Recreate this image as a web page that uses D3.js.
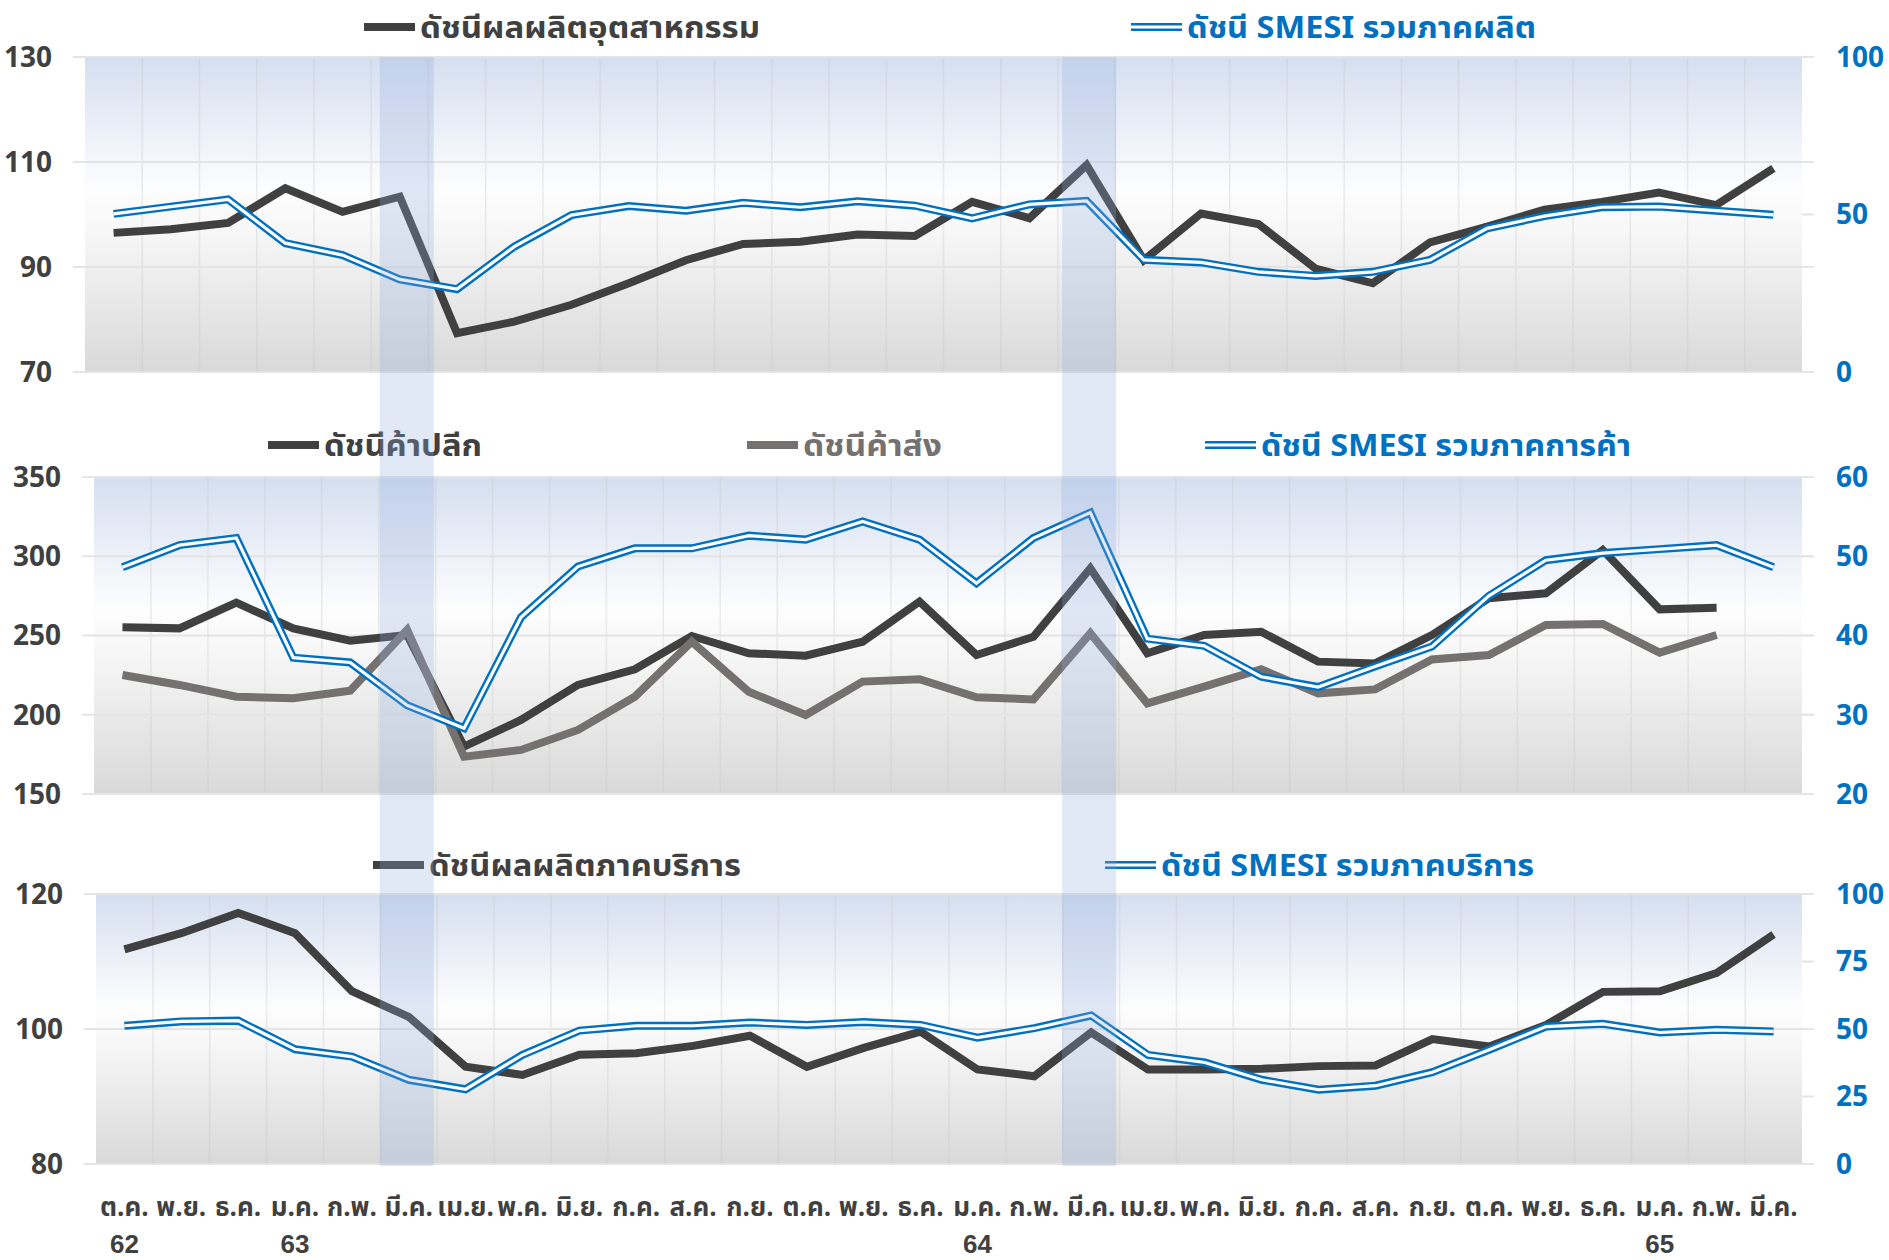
<!DOCTYPE html>
<html>
<head>
<meta charset="utf-8">
<script src="https://cdn.jsdelivr.net/npm/d3@7/dist/d3.min.js"></script>
<style>
  body { margin: 0; background: #ffffff; }
  text { font-family: "Noto Sans Thai", "Noto Sans Thai UI", "Noto Sans", "DejaVu Sans", sans-serif; font-weight: bold; }
  text.year { font-family: "Liberation Sans", Arial, sans-serif; }
</style>
</head>
<body>
<svg id="canvas"></svg>
<script>
// Month labels (Oct 2019 - Mar 2022, Thai years 62-65).
var months = ['ต.ค.', 'พ.ย.', 'ธ.ค.', 'ม.ค.', 'ก.พ.', 'มี.ค.', 'เม.ย.', 'พ.ค.', 'มิ.ย.', 'ก.ค.', 'ส.ค.', 'ก.ย.',
              'ต.ค.', 'พ.ย.', 'ธ.ค.', 'ม.ค.', 'ก.พ.', 'มี.ค.', 'เม.ย.', 'พ.ค.', 'มิ.ย.', 'ก.ค.', 'ส.ค.', 'ก.ย.',
              'ต.ค.', 'พ.ย.', 'ธ.ค.', 'ม.ค.', 'ก.พ.', 'มี.ค.'];
var years = ['62', '63', '64', '65'];
var yearMonths = [0, 3, 15, 27];
var highlightMonths = [5, 17];

// Panel 1: manufacturing.
var ipi = [96.5, 97.2, 98.4, 105.0, 100.5, 103.4, 77.4, 79.6, 82.8, 86.9, 91.3, 94.4, 94.8, 96.2, 95.9,
           102.4, 99.3, 109.4, 91.3, 100.2, 98.2, 89.7, 86.9, 94.7, 97.7, 100.9, 102.4, 104.2, 101.8, 108.8];
var smesiMfg = [50.2, 52.5, 54.8, 40.9, 37.1, 29.4, 26.3, 39.8, 49.8, 52.7, 51.2, 53.7, 52.3, 54.2, 52.8,
                48.8, 53.2, 54.3, 35.6, 34.8, 31.8, 30.5, 31.8, 35.6, 45.6, 49.5, 52.3, 52.5, 51.2, 49.9];

// Panel 2: trade.
var retail = [255.2, 254.5, 270.7, 254.5, 246.7, 250.3, 179.9, 196.7, 218.8, 228.7, 249.7, 238.8, 237.3, 246.1, 271.4,
              237.7, 249.2, 292.4, 238.8, 250.3, 252.4, 233.5, 232.4, 250.3, 273.5, 276.6, 303.9, 266.5, 267.5, null];
var wholesale = [225.1, 218.8, 211.4, 210.4, 215.2, 253.5, 173.5, 177.8, 190.4, 211.4, 246.1, 214.5, 199.8, 220.9, 222.4,
                 211.0, 209.7, 251.4, 207.2, 217.7, 228.7, 213.5, 216.0, 234.9, 237.7, 256.6, 257.3, 239.2, 250.3, null];
var smesiTrade = [48.6, 51.4, 52.3, 37.2, 36.6, 31.2, 28.3, 42.3, 48.7, 51.0, 51.0, 52.6, 52.1, 54.4, 52.1,
                  46.6, 52.3, 55.5, 39.6, 38.7, 34.8, 33.5, 36.1, 38.6, 45.0, 49.5, 50.4, 50.9, 51.4, 48.6];

// Panel 3: services.
var services = [111.8, 114.2, 117.2, 114.2, 105.6, 101.8, 94.4, 93.2, 96.2, 96.4, 97.5, 99.0, 94.4, 97.2, 99.6,
                94.0, 93.0, 99.5, 94.0, 94.0, 94.1, 94.5, 94.6, 98.5, 97.4, 100.6, 105.5, 105.6, 108.3, 114.0];
var smesiServ = [51.2, 52.8, 53.1, 42.5, 39.8, 31.2, 27.7, 40.4, 49.4, 51.2, 51.2, 52.4, 51.5, 52.6, 51.5,
                 46.8, 50.3, 55.0, 40.4, 37.6, 31.2, 27.5, 29.0, 34.0, 42.3, 50.9, 51.9, 48.7, 49.7, 49.1];

// Colours.
var colour = {
  dark: '#404040',
  gray: '#767171',
  blue: '#0070c0',
  grid: '#e4e4e4'
};

var canvas = { width: 1889, height: 1260 };

var svg = d3.select('#canvas')
            .attr('width', canvas.width)
            .attr('height', canvas.height);

// Plot background gradient.
var defs = svg.append('defs');
var grad = defs.append('linearGradient')
               .attr('id', 'bg')
               .attr('x1', 0).attr('y1', 0).attr('x2', 0).attr('y2', 1);
[[0, '#d5dff0'], [0.42, '#fdfdfe'], [0.55, '#f7f7f7'], [1, '#d9d9d9']].forEach(function(s) {
  grad.append('stop').attr('offset', s[0]).attr('stop-color', s[1]);
});

// Panel layouts.
var panels = [
  {
    left: 85, right: 1802, top: 57, bottom: 372,
    leftDomain: [70, 130], leftTicks: [70, 90, 110, 130],
    rightDomain: [0, 100], rightTicks: [0, 50, 100],
    series: [
      { values: ipi, axis: 'left', style: 'dark' },
      { values: smesiMfg, axis: 'right', style: 'double' }
    ],
    legend: [
      { label: 'ดัชนีผลผลิตอุตสาหกรรม', style: 'dark', x: 364, width: 340 },
      { label: 'ดัชนี SMESI รวมภาคผลิต', style: 'double', x: 1131, width: 349 }
    ],
    legendY: 27
  },
  {
    left: 94, right: 1802, top: 477, bottom: 794,
    leftDomain: [150, 350], leftTicks: [150, 200, 250, 300, 350],
    rightDomain: [20, 60], rightTicks: [20, 30, 40, 50, 60],
    series: [
      { values: retail, axis: 'left', style: 'dark' },
      { values: wholesale, axis: 'left', style: 'gray' },
      { values: smesiTrade, axis: 'right', style: 'double' }
    ],
    legend: [
      { label: 'ดัชนีค้าปลีก', style: 'dark', x: 268, width: 158 },
      { label: 'ดัชนีค้าส่ง', style: 'gray', x: 747, width: 139 },
      { label: 'ดัชนี SMESI รวมภาคการค้า', style: 'double', x: 1205, width: 370 }
    ],
    legendY: 445
  },
  {
    left: 96, right: 1802, top: 894, bottom: 1164,
    leftDomain: [80, 120], leftTicks: [80, 100, 120],
    rightDomain: [0, 100], rightTicks: [0, 25, 50, 75, 100],
    series: [
      { values: services, axis: 'left', style: 'dark' },
      { values: smesiServ, axis: 'right', style: 'double' }
    ],
    legend: [
      { label: 'ดัชนีผลผลิตภาคบริการ', style: 'dark', x: 373, width: 312 },
      { label: 'ดัชนี SMESI รวมภาคบริการ', style: 'double', x: 1105, width: 373 }
    ],
    legendY: 865
  }
];

// Draw a line in one of the three styles.
function drawLine(g, points, style) {
  if (style == 'double') {
    g.append('path').attr('d', points).attr('fill', 'none')
     .attr('stroke', colour.blue).attr('stroke-width', 8).attr('stroke-linejoin', 'miter');
    g.append('path').attr('d', points).attr('fill', 'none')
     .attr('stroke', '#ffffff').attr('stroke-width', 3.2).attr('stroke-linejoin', 'miter');
  } else {
    g.append('path').attr('d', points).attr('fill', 'none')
     .attr('stroke', colour[style]).attr('stroke-width', 8)
     .attr('stroke-linejoin', 'miter').attr('stroke-miterlimit', 3);
  }
}

var lastX;

panels.forEach(function(p) {
  var g = svg.append('g');

  var x = d3.scaleBand().domain(d3.range(months.length)).range([p.left, p.right]);
  var yL = d3.scaleLinear().domain(p.leftDomain).range([p.bottom, p.top]);
  var yR = d3.scaleLinear().domain(p.rightDomain).range([p.bottom, p.top]);
  lastX = x;

  // Background.
  g.append('rect')
   .attr('x', p.left).attr('y', p.top)
   .attr('width', p.right - p.left).attr('height', p.bottom - p.top)
   .attr('fill', 'url(#bg)');

  // Vertical grid at band boundaries.
  g.selectAll('.vgrid')
   .data(d3.range(1, months.length))
   .enter().append('line')
   .attr('x1', function(d) { return x(d); }).attr('x2', function(d) { return x(d); })
   .attr('y1', p.top).attr('y2', p.bottom)
   .attr('stroke', '#c8c8c8').attr('stroke-opacity', 0.35).attr('stroke-width', 1.5);

  // Horizontal grid + tick marks.
  g.selectAll('.hgrid')
   .data(p.leftTicks)
   .enter().append('line')
   .attr('x1', p.left - 12).attr('x2', p.right + 12)
   .attr('y1', function(d) { return yL(d); }).attr('y2', function(d) { return yL(d); })
   .attr('stroke', colour.grid).attr('stroke-width', 2);

  // Left axis labels.
  g.selectAll('.lt')
   .data(p.leftTicks)
   .enter().append('text')
   .attr('x', p.left - 33)
   .attr('y', function(d) { return yL(d); })
   .attr('dy', '0.35em')
   .attr('text-anchor', 'end')
   .attr('font-size', 28)
   .attr('fill', colour.dark)
   .text(function(d) { return d; });

  // Right axis ticks and labels.
  g.selectAll('.rtick')
   .data(p.rightTicks)
   .enter().append('line')
   .attr('x1', p.right).attr('x2', p.right + 12)
   .attr('y1', function(d) { return yR(d); }).attr('y2', function(d) { return yR(d); })
   .attr('stroke', colour.grid).attr('stroke-width', 2);

  g.selectAll('.rt')
   .data(p.rightTicks)
   .enter().append('text')
   .attr('x', p.right + 34)
   .attr('y', function(d) { return yR(d); })
   .attr('dy', '0.35em')
   .attr('font-size', 28)
   .attr('fill', colour.blue)
   .text(function(d) { return d; });

  // Series.
  p.series.forEach(function(s) {
    var yS = s.axis == 'left' ? yL : yR;
    var line = d3.line()
                 .defined(function(d) { return d != null; })
                 .x(function(d, i) { return x(i) + x.bandwidth() / 2; })
                 .y(function(d) { return yS(d); });
    drawLine(g, line(s.values), s.style);
  });

  // Legend.
  p.legend.forEach(function(l) {
    var c = l.style == 'double' ? colour.blue : colour[l.style];
    var marker = d3.line()([[l.x, p.legendY], [l.x + 51, p.legendY]]);
    drawLine(g, marker, l.style);
    g.append('text')
     .attr('x', l.x + 56)
     .attr('y', p.legendY)
     .attr('dy', '0.36em')
     .attr('font-size', 30)
     .attr('fill', c)
     .attr('textLength', l.width)
     .attr('lengthAdjust', 'spacingAndGlyphs')
     .text(l.label);
  });
});

// X axis labels under the bottom panel.
svg.selectAll('.month')
   .data(months)
   .enter().append('text')
   .attr('x', function(d, i) { return lastX(i) + lastX.bandwidth() / 2; })
   .attr('y', 1207)
   .attr('dy', '0.35em')
   .attr('text-anchor', 'middle')
   .attr('font-size', 26)
   .attr('fill', colour.dark)
   .text(function(d) { return d; });

// Year labels (baseline kept clear of the bottom edge).
svg.selectAll('.year')
   .data(years)
   .enter().append('text')
   .attr('class', 'year')
   .attr('x', function(d, i) { return lastX(yearMonths[i]) + lastX.bandwidth() / 2; })
   .attr('y', 1253)
   .attr('text-anchor', 'middle')
   .attr('font-size', 26)
   .attr('fill', colour.dark)
   .text(function(d) { return d; });

// Highlighted months, spanning all panels.
svg.selectAll('.hl')
   .data(highlightMonths)
   .enter().append('rect')
   .attr('x', function(d) { return lastX(d) + lastX.bandwidth() / 2 - 29; })
   .attr('y', 57)
   .attr('width', 54)
   .attr('height', 1166 - 57)
   .attr('fill', '#8faadc')
   .attr('fill-opacity', 0.27);
</script>
</body>
</html>
